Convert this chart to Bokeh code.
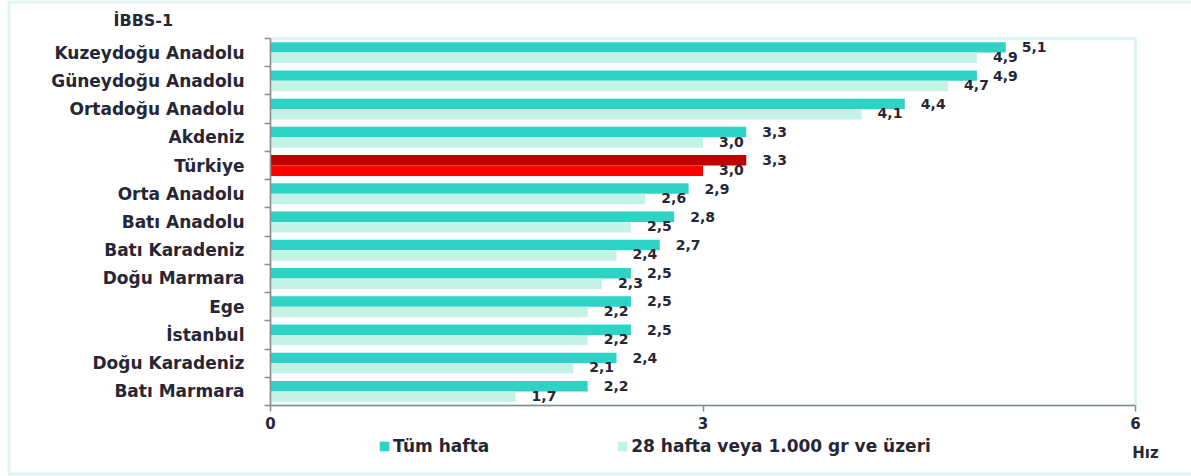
from bokeh.plotting import figure
from bokeh.models import (Range1d, FixedTicker, ColumnDataSource, Label, Legend,
                          LegendItem, BoxAnnotation)
from bokeh.embed import file_html
from bokeh.resources import INLINE
from bokeh.core.properties import value

# ---- data ----
regions = ["Kuzeydoğu Anadolu", "Güneydoğu Anadolu", "Ortadoğu Anadolu", "Akdeniz",
           "Türkiye", "Orta Anadolu", "Batı Anadolu", "Batı Karadeniz", "Doğu Marmara",
           "Ege", "İstanbul", "Doğu Karadeniz", "Batı Marmara"]
tum_hafta = [5.1, 4.9, 4.4, 3.3, 3.3, 2.9, 2.8, 2.7, 2.5, 2.5, 2.5, 2.4, 2.2]
hafta_28 = [4.9, 4.7, 4.1, 3.0, 3.0, 2.6, 2.5, 2.4, 2.3, 2.2, 2.2, 2.1, 1.7]
x_ticks = [0, 3, 6]
series_names = ["Tüm hafta", "28 hafta veya 1.000 gr ve üzeri"]
highlight = "Türkiye"
chart_title = "İBBS-1"
x_title = "Hız"

# ---- styles / layout ----
DARK = "#2ED3C6"
LIGHT = "#C5F2E7"
RED_DARK = "#C00000"
RED_LIGHT = "#FF0000"
TEXT = "#262636"
AXIS = "#8C8C8C"
FRAME = "#8FE3DA"
PLOT_FRAME = "#72DDD3"
FONT = "DejaVu Sans"

W, H = 1191, 476                       # canvas size
PL, PR, PT, PB = 270, 1135, 38, 405    # plot-area edges in canvas pixels
XMAX = 6

n = len(regions)
sx = (PR - PL) / XMAX
sy = (PB - PT) / n
x0, x1 = -PL / sx, XMAX + (W - PR) / sx
y0, y1 = -(H - PB) / sy, n + PT / sy
px_x = lambda px: x0 + px / sx
px_y = lambda py: y1 - py / sy

yc = [n - i - 0.5 for i in range(n)]
fmt = lambda v: f"{v:.1f}".replace(".", ",")

src = ColumnDataSource(dict(
    region=regions,
    y_dark=[y + 0.185 for y in yc],
    y_light=[y - 0.185 for y in yc],
    tum=tum_hafta,
    h28=hafta_28,
    dark_color=[RED_DARK if r == highlight else DARK for r in regions],
    light_color=[RED_LIGHT if r == highlight else LIGHT for r in regions],
    tum_lbl=[fmt(v) for v in tum_hafta],
    h28_lbl=[fmt(v) for v in hafta_28],
))

p = figure(width=W, height=H,
           x_range=Range1d(x0, x1), y_range=Range1d(y0, y1),
           output_backend="svg", toolbar_location=None, min_border=0)
p.min_border_left = p.min_border_right = p.min_border_top = p.min_border_bottom = 0
p.outline_line_color = None
p.xgrid.visible = False
p.ygrid.visible = False

# outer teal frame and plot-area outline
p.add_layout(BoxAnnotation(left=px_x(8.5), right=px_x(W + 40), top=px_y(1.5), bottom=px_y(473.5),
                           fill_alpha=0, line_color=FRAME, line_width=3, level="underlay"))
p.add_layout(BoxAnnotation(left=0, right=XMAX, bottom=0, top=n,
                           fill_alpha=0, line_color=PLOT_FRAME, line_width=2.5, level="underlay"))

r_dark = p.hbar(y="y_dark", left=0, right="tum", height=0.37, fill_color="dark_color",
                line_color=None, source=src)
r_light = p.hbar(y="y_light", left=0, right="h28", height=0.37, fill_color="light_color",
                 line_color=None, source=src)

for xcol, ycol, tcol, yoff in [("tum", "y_dark", "tum_lbl", 0), ("h28", "y_light", "h28_lbl", -1)]:
    p.text(x=xcol, y=ycol, text=tcol, source=src, x_offset=16, y_offset=yoff,
           text_align="left", text_baseline="middle",
           text_font=value(FONT), text_font_style="bold",
           text_font_size="14px", text_color=TEXT)

# y axis
ya = p.yaxis[0]
ya.fixed_location = 0
ya.bounds = (0, n)
ya.ticker = FixedTicker(ticks=yc, minor_ticks=list(range(n + 1)))
ya.major_label_overrides = {y: r for y, r in zip(yc, regions)}
ya.major_tick_out = 0
ya.major_tick_in = 0
ya.minor_tick_out = 6
ya.minor_tick_in = 0
ya.minor_tick_line_color = AXIS
ya.minor_tick_line_width = 1.5
ya.axis_line_color = AXIS
ya.axis_line_width = 1.5
ya.major_label_standoff = 20
ya.major_label_text_font = FONT
ya.major_label_text_font_style = "bold"
ya.major_label_text_font_size = "17px"
ya.major_label_text_color = TEXT

# x axis
xa = p.xaxis[0]
xa.fixed_location = 0
xa.bounds = (0, XMAX)
xa.ticker = FixedTicker(ticks=x_ticks, minor_ticks=[])
xa.major_tick_out = 6
xa.major_tick_in = 0
xa.major_tick_line_color = AXIS
xa.major_tick_line_width = 1.5
xa.axis_line_color = AXIS
xa.axis_line_width = 1.5
xa.major_label_standoff = 5
xa.major_label_text_font = FONT
xa.major_label_text_font_style = "bold"
xa.major_label_text_font_size = "15px"
xa.major_label_text_color = TEXT

legend = Legend(items=[LegendItem(label=series_names[0], renderers=[r_dark], index=0),
                       LegendItem(label=series_names[1], renderers=[r_light], index=0)],
                orientation="horizontal", location=(378, 20),
                spacing=127, glyph_width=12, glyph_height=12, label_standoff=3,
                padding=0, margin=0, border_line_color=None, background_fill_alpha=0,
                label_text_font=FONT, label_text_font_style="bold",
                label_text_font_size="17px", label_text_color=TEXT)
p.add_layout(legend, "center")

p.add_layout(Label(x=XMAX, y=0, x_offset=10, y_offset=-47, text=x_title,
                   text_align="center", text_baseline="middle",
                   text_font=FONT, text_font_style="bold", text_font_size="15px",
                   text_color=TEXT))
p.add_layout(Label(x=0, y=n, x_offset=-157, y_offset=18, text=chart_title,
                   text_align="left", text_baseline="middle",
                   text_font=FONT, text_font_style="bold", text_font_size="16px",
                   text_color=TEXT))

open("out.html", "w").write(file_html(p, INLINE))
